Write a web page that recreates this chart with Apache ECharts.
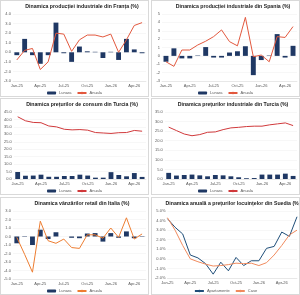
<!DOCTYPE html>
<html>
<head>
<meta charset="utf-8">
<script src="https://cdn.jsdelivr.net/npm/echarts@6/dist/echarts.min.js"></script>
<style>
  body { margin: 0; background: #fff; width: 300px; height: 295px; position: relative; overflow: hidden; }
  .panel { position: absolute; box-sizing: border-box; border: 1px solid #d9d9d9; background: #fff; }
</style>
</head>
<body>
<div class="panel" id="fr" style="left:0;top:0;width:149px;height:97px"></div>
<div class="panel" id="es" style="left:151px;top:0;width:149px;height:97px"></div>
<div class="panel" id="trCpi" style="left:0;top:98px;width:149px;height:97px"></div>
<div class="panel" id="trPpi" style="left:151px;top:98px;width:149px;height:97px"></div>
<div class="panel" id="it" style="left:0;top:197px;width:149px;height:98px"></div>
<div class="panel" id="se" style="left:151px;top:197px;width:149px;height:98px"></div>
<script>
const months = ["Jan-25", "Feb-25", "Mar-25", "Apr-25", "May-25", "Jun-25", "Jul-25", "Aug-25", "Sep-25",
  "Oct-25", "Nov-25", "Dec-25", "Jan-26", "Feb-26", "Mar-26", "Apr-26", "May-26"];
const monthsSe = months.concat(["Jun-26"]);

const frMonthly = [-0.3, 1.4, -0.3, -1.2, -0.3, 3.1, -0.1, -1.0, 0.6, 0.1, 0.05, -0.6, 0.05, -0.8, 1.4, 0.3, -0.1];
const frAnnual = [-0.8, 0.2, 0.4, -1.8, -1.0, 2.0, 1.9, 0.1, 1.3, 1.8, 1.8, 1.6, 1.9, 0.0, 1.3, 2.8, 3.1];

const esMonthly = [-0.7, 0.9, -0.3, -0.3, 0.05, 1.05, -0.2, -0.2, 0.4, 0.55, 1.15, -2.3, -0.5, 0.05, 2.6, -0.2, 1.2];
const esAnnual = [-0.7, -1.25, 0.7, 0.7, 1.3, 1.75, 2.3, 3.1, 1.7, 1.2, 4.6, -0.1, 0.1, -0.7, 2.3, 2.2, 3.5];

const cpiMonthly = [4.7, 2.2, 2.3, 2.9, 1.5, 1.5, 2.0, 2.0, 2.9, 2.3, 0.9, 0.9, 4.6, 2.7, 1.8, 4.0, 1.4];
const cpiAnnual = [41.8, 39.1, 38.0, 37.8, 35.6, 35.0, 33.4, 33.0, 33.2, 32.8, 31.2, 30.9, 30.6, 31.1, 31.2, 32.6, 32.1];

const ppiMonthly = [3.2, 1.8, 2.1, 2.3, 1.9, 1.4, 2.1, 1.9, 1.4, 0.9, 0.4, 0.5, 2.3, 2.3, 2.3, 2.8, 1.6];
const ppiAnnual = [27.1, 25.3, 23.5, 22.6, 23.2, 24.4, 24.6, 25.8, 26.7, 27.0, 27.4, 27.6, 27.6, 28.3, 28.8, 29.3, 27.9];

const itMonthly = [-0.8, 0.05, -1.0, 0.8, -0.3, 0.5, 0.0, -0.15, -0.2, 0.35, 0.4, -0.6, 0.4, -0.15, 0.6, -0.2, 0.05];
const itAnnual = [-0.1, -2.1, -4.2, 1.8, -0.5, -0.8, -0.3, -1.3, -1.4, 0.2, 0.2, -0.2, 1.0, -0.1, 2.2, -0.3, 0.3];

const seFlats = [4.2, 3.3, 2.6, 0.4, 0.1, -0.5, -1.6, -0.35, -1.25, 0.15, -0.7, -0.2, -0.2, 1.1, 1.3, 2.8, 2.35, 4.4];
const seHouses = [4.3, 3.0, 1.4, 0.0, -0.3, -0.55, -0.75, -0.7, -0.6, -0.45, -0.5, -0.45, -0.7, -0.4, 0.4, 1.4, 2.5, 3.0];

const FONT = "Liberation Sans";
const NAVY = "#1f3864";

function baseOption(title, cats, yAxisOpt, boundaryGap) {
  return {
    animation: false,
    textStyle: { fontFamily: FONT },
    title: {
      text: title,
      left: 81,
      top: 3,
      padding: 0,
      textAlign: "center",
      textStyle: { fontSize: 5.2, fontWeight: "bold", color: "#1a1a1a", fontFamily: FONT },
    },
    legend: {
      bottom: 1,
      left: "center",
      itemWidth: 9,
      itemHeight: 3,
      itemGap: 5,
      padding: 0,
      textStyle: { fontSize: 4, color: "#595959", padding: [0, 0, 0, -2] },
    },
    grid: { left: 10, right: 2, top: 13, bottom: 15 },
    xAxis: {
      type: "category",
      data: cats,
      boundaryGap: boundaryGap,
      axisTick: { show: false },
      axisLine: { onZero: false, lineStyle: { color: "#d9d9d9", width: 0.5 } },
      axisLabel: { fontSize: 4, color: "#595959", margin: 2.5, interval: 2 },
    },
    yAxis: Object.assign({
      type: "value",
      axisLine: { show: false },
      axisTick: { show: false },
      splitLine: { lineStyle: { color: "#eeeeee", width: 0.5 } },
    }, yAxisOpt),
  };
}

function yOpt(min, max, interval, fmt) {
  return {
    min: min,
    max: max,
    interval: interval,
    axisLabel: { fontSize: 4, color: "#595959", margin: 2, formatter: fmt },
  };
}

const oneDec = (v) => v.toFixed(1);

function barLine(id, title, monthly, annual, yAxisOpt, lineColor) {
  const chart = echarts.init(document.getElementById(id), null, { renderer: "canvas" });
  const option = baseOption(title, months, yAxisOpt, true);
  option.series = [
    { name: "Lunara", type: "bar", data: monthly, barWidth: "62%", itemStyle: { color: NAVY } },
    { name: "Anuala", type: "line", data: annual, symbol: "none", lineStyle: { color: lineColor, width: 1 }, itemStyle: { color: lineColor } },
  ];
  chart.setOption(option);
}

barLine("fr", "Dinamica producției industriale din Franța (%)", frMonthly, frAnnual,
  yOpt(-3, 4, 1, oneDec), "#e2583e");
barLine("es", "Dinamica producției industriale din Spania (%)", esMonthly, esAnnual,
  yOpt(-3, 5, 1, (v) => String(v)), "#e2583e");
barLine("trCpi", "Dinamica prețurilor de consum din Turcia (%)", cpiMonthly, cpiAnnual,
  yOpt(0, 45, 5, oneDec), "#d0393b");
barLine("trPpi", "Dinamica prețurilor industriale din Turcia (%)", ppiMonthly, ppiAnnual,
  yOpt(0, 35, 5, oneDec), "#d0393b");
barLine("it", "Dinamica vânzărilor retail din Italia (%)", itMonthly, itAnnual,
  yOpt(-5, 3, 1, oneDec), "#ed7d31");

const seChart = echarts.init(document.getElementById("se"), null, { renderer: "canvas" });
const seOption = baseOption("Dinamica anuală a prețurilor locuințelor din Suedia (%)", monthsSe,
  yOpt(-2, 5, 1, (v) => v.toFixed(1) + "%"), false);
seOption.grid = { left: 14, right: 2, top: 13, bottom: 16 };
seOption.series = [
  { name: "Apartamente", type: "line", data: seFlats, symbol: "none", lineStyle: { color: "#1f4e79", width: 1 }, itemStyle: { color: "#1f4e79" } },
  { name: "Case", type: "line", data: seHouses, symbol: "none", lineStyle: { color: "#f08a5d", width: 1 }, itemStyle: { color: "#f08a5d" } },
];
seChart.setOption(seOption);
</script>
</body>
</html>
